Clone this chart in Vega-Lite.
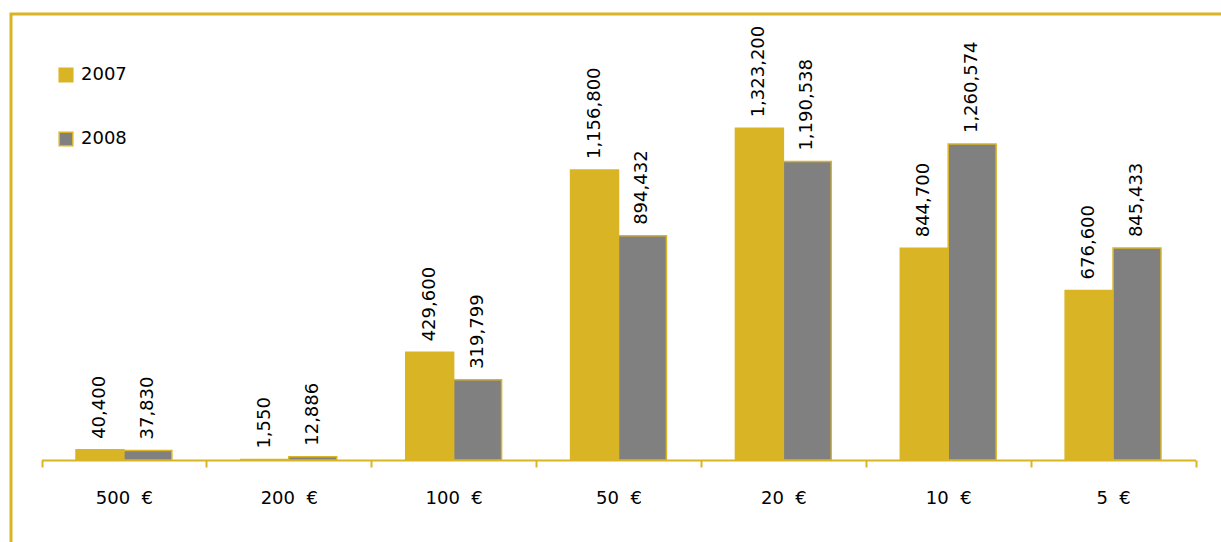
{
  "$schema": "https://vega.github.io/schema/vega-lite/v6.json",
  "width": 1221,
  "height": 542,
  "autosize": {"type": "fit", "contains": "padding"},
  "padding": {"left": 11, "top": 14, "right": -5, "bottom": -5},
  "background": "white",
  "config": {
    "view": {"stroke": "#D9B526", "strokeWidth": 3},
    "font": "DejaVu Sans"
  },
  "data": {
    "values": [
      {"note": "500\u00a0\u00a0€", "year": "2007", "count": 40400},
      {"note": "500\u00a0\u00a0€", "year": "2008", "count": 37830},
      {"note": "200\u00a0\u00a0€", "year": "2007", "count": 1550},
      {"note": "200\u00a0\u00a0€", "year": "2008", "count": 12886},
      {"note": "100\u00a0\u00a0€", "year": "2007", "count": 429600},
      {"note": "100\u00a0\u00a0€", "year": "2008", "count": 319799},
      {"note": "50\u00a0\u00a0€", "year": "2007", "count": 1156800},
      {"note": "50\u00a0\u00a0€", "year": "2008", "count": 894432},
      {"note": "20\u00a0\u00a0€", "year": "2007", "count": 1323200},
      {"note": "20\u00a0\u00a0€", "year": "2008", "count": 1190538},
      {"note": "10\u00a0\u00a0€", "year": "2007", "count": 844700},
      {"note": "10\u00a0\u00a0€", "year": "2008", "count": 1260574},
      {"note": "5\u00a0\u00a0€", "year": "2007", "count": 676600},
      {"note": "5\u00a0\u00a0€", "year": "2008", "count": 845433}
    ]
  },
  "encoding": {
    "x": {
      "field": "note",
      "type": "nominal",
      "sort": null,
      "scale": {"range": [30.5, 1184.5], "paddingInner": 0, "paddingOuter": 0},
      "axis": {
        "title": null,
        "offset": -87,
        "labelAngle": 0,
        "labelFontSize": 18,
        "labelFont": "DejaVu Sans",
        "labelColor": "black",
        "labelPadding": 22,
        "domainColor": "#D9B526",
        "domainWidth": 2,
        "tickColor": "#D9B526",
        "tickWidth": 2,
        "tickSize": 7,
        "tickBand": "extent",
        "grid": false
      }
    },
    "xOffset": {
      "field": "year",
      "type": "nominal",
      "scale": {"paddingInner": 0, "paddingOuter": 0.72}
    },
    "y": {
      "field": "count",
      "type": "quantitative",
      "scale": {"domain": [0, 1779540], "range": [446, 0]},
      "axis": null
    }
  },
  "layer": [
    {
      "mark": {"type": "bar", "stroke": "#D9B526", "strokeWidth": 1.5},
      "encoding": {
        "color": {
          "field": "year",
          "type": "nominal",
          "scale": {"domain": ["2007", "2008"], "range": ["#D9B526", "#808080"]},
          "legend": {
            "title": null,
            "orient": "none",
            "legendX": 46,
            "legendY": 52,
            "symbolType": "square",
            "symbolSize": 185,
            "symbolStrokeColor": "#D9B526",
            "symbolStrokeWidth": 1.5,
            "symbolOpacity": 1,
            "labelFontSize": 18,
            "labelFont": "DejaVu Sans",
            "labelColor": "black",
            "rowPadding": 44,
            "labelOffset": 6,
            "padding": 0
          }
        }
      }
    },
    {
      "mark": {
        "type": "text",
        "angle": 270,
        "align": "left",
        "baseline": "middle",
        "dx": 11,
        "fontSize": 18,
        "font": "DejaVu Sans",
        "color": "black"
      },
      "encoding": {
        "text": {"field": "count", "type": "quantitative", "format": ","}
      }
    }
  ]
}
